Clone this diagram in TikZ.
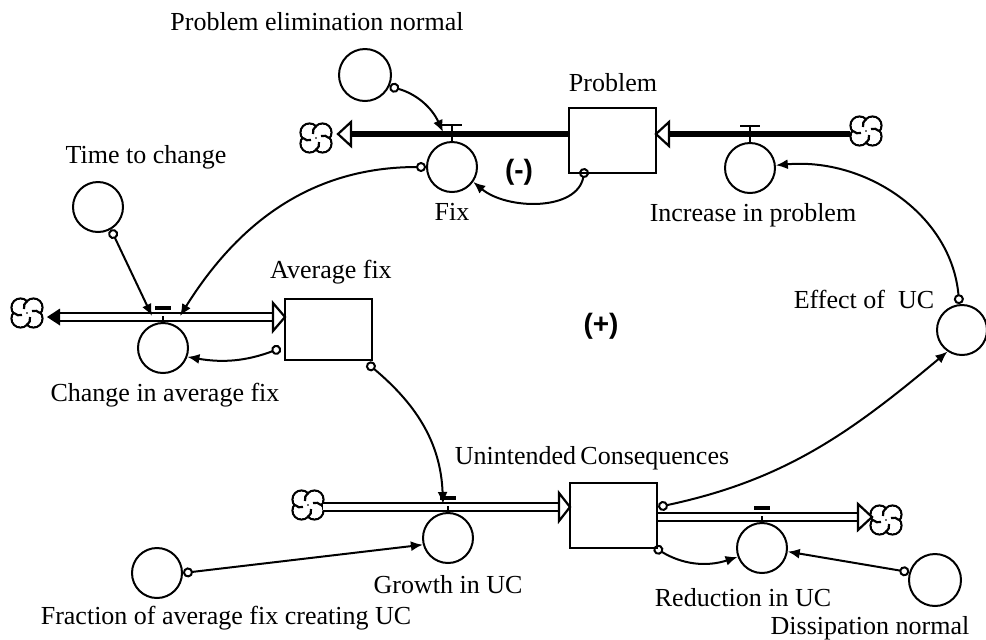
\documentclass[tikz,border=0pt]{standalone}
\usepackage{fontspec}
\setmainfont{Liberation Serif}
\newfontfamily\boldsans{Liberation Sans}
\usetikzlibrary{arrows.meta,calc}
\begin{document}
\begin{tikzpicture}[x=0.5pt,y=-0.5pt,
  aux/.style={circle,draw,line width=1pt,minimum size=25pt,inner sep=0pt},
  stock/.style={rectangle,draw,line width=1.1pt,minimum width=43.5pt,minimum height=32.5pt,inner sep=0pt},
  lbl/.style={font=\fontsize{13}{15}\selectfont,inner sep=0pt},
  conn/.style={line width=1pt,{Circle[open,length=5pt,width=5pt,line width=1pt]}-{Latex[length=6pt,width=5pt]}},
  pipe/.style={line width=2.6pt},
  dpipe/.style={line width=1.1pt,double=white,double distance=2.8pt},
  hollowtip/.style={line width=1.1pt,fill=white,line join=miter},
  loopmark/.style={font=\boldsans\bfseries\fontsize{14}{16}\selectfont,inner sep=0pt},
  cloudpic/.pic={
    \foreach \p in {(-6.5,-5.5),(6.5,-5.5),(6.5,5.5),(-6.5,5.5)} \draw[line width=1.1pt] \p circle (9);
    \foreach \p in {(-6.5,-5.5),(6.5,-5.5),(6.5,5.5),(-6.5,5.5)} \fill[white] \p circle (7.8);
    \draw[line width=1.1pt] (0,-12) to[bend right=30] (-3,-4)
                            (13,0) to[bend right=30] (5,-2)
                            (0,12) to[bend right=30] (3,4)
                            (-13,0) to[bend right=30] (-5,2);
  }
]
\useasboundingbox (0,0) rectangle (986,639);

% ---------- stocks
\node[stock] (prob) at (612.5,140.5) {};
\node[stock,minimum height=30.5pt] (avg) at (328.5,329.5) {};
\node[stock] (uc) at (613.5,515.5) {};

% ---------- auxiliaries / rates
\node[aux] (fix) at (452,167) {};
\node[aux] (inc) at (750,168) {};
\node[aux,minimum size=26pt] (pen) at (365,75) {};
\node[aux] (ttc) at (98,207) {};
\node[aux] (cha) at (163,348) {};
\node[aux] (gro) at (448,538) {};
\node[aux] (red) at (762,548) {};
\node[aux,minimum size=26pt] (dis) at (935,580) {};
\node[aux] (eff) at (962,330) {};
\node[aux] (fra) at (157,573) {};

% ---------- labels
\node[lbl] (probL) at (613,83) {Problem};
\node[lbl] (fixL) at (452,212) {Fix};
\node[lbl] (incL) at (753,215) {Increase in problem};
\node[lbl] (penL) at (317,22) {Problem elimination normal};
\node[lbl] (ttcL) at (146,157) {Time to change};
\node[lbl] (chaL) at (165,395) {Change in average fix};
\node[lbl] (avgL) at (331,272) {Average fix};
\node[lbl] (groL) at (448,585) {Growth in UC};
\node[lbl] (ucL) at (592,458) {Unintended\,Consequences};
\node[lbl] (redL) at (743,598) {Reduction in UC};
\node[lbl] (disL) at (870,628) {Dissipation normal};
\node[lbl] (effL) at (864,299) {Effect of\ \ UC};
\node[lbl] (fraL) at (226,618) {Fraction of average fix creating UC};
\node[loopmark] (neg) at (519,172) {(-)};
\node[loopmark] (pos) at (601,326) {(+)};

% ---------- clouds and pipe ends
\coordinate (cl1) at (316,138);
\coordinate (cl2) at (866,131);
\coordinate (cl3) at (27,313);
\coordinate (cl4) at (308,505);
\coordinate (cl5) at (886,520);
\pic at (cl1) {cloudpic};
\pic at (cl2) {cloudpic};
\pic at (cl3) {cloudpic};
\pic at (cl4) {cloudpic};
\pic at (cl5) {cloudpic};

\coordinate (tipL1) at (338,134);
\coordinate (tipR1) at (656,134);
\coordinate (tipL2) at (47,317);
\coordinate (tipAvg) at (285,317);
\coordinate (tipUC) at (570,507);
\coordinate (tipOut) at (872,517);

% ---------- pipes
\draw[pipe] (prob.west |- tipL1) -- ($(tipL1)+(13,0)$);
\draw[pipe] ($(cl2)+(-16,3)$) -- ($(tipR1)+(13,0)$);
\draw[hollowtip] (tipL1) -- ++(13,-12) -- ++(0,24) -- cycle;
\draw[hollowtip] (tipR1) -- ++(13,-12) -- ++(0,24) -- cycle;

\draw[dpipe] ($(tipL2)+(12,0)$) -- ($(tipAvg)+(-12,0)$);
\fill (tipL2) -- ++(13,-8.5) -- ++(0,17) -- cycle;
\draw[hollowtip] (tipAvg) -- ++(-12,-14) -- ++(0,28) -- cycle;

\draw[dpipe] ($(cl4)+(15,2)$) -- ($(tipUC)+(-11,0)$);
\draw[hollowtip] (tipUC) -- ++(-11,-14) -- ++(0,28) -- cycle;

\draw[dpipe] (uc.east |- tipOut) -- ($(tipOut)+(-14,0)$);
\draw[hollowtip] (tipOut) -- ++(-14,-13) -- ++(0,26) -- cycle;

% ---------- valves
\foreach \v in {fix,inc}{
  \draw[line width=1pt] (\v.north) -- ++(0,-16);
  \draw[line width=1.4pt] ($(\v.north)+(-10,-16)$) -- ++(20,0);
}
\foreach \v in {cha,gro,red}{
  \draw[line width=1pt] (\v.north) -- ++(0,-6);
  \fill ($(\v.north)+(-8,-12)$) rectangle ++(16,-4);
}

\coordinate (vfix) at ($(fix.north)+(-9,-9)$);
\coordinate (vchaL) at ($(cha.north)+(-11,-6)$);
\coordinate (vchaR) at ($(cha.north)+(17,-6)$);
\coordinate (vgro) at ($(gro.north)+(-5,-8)$);

% ---------- connectors
\draw[conn] (pen.-25) to[bend left=25] (vfix);
\draw[conn] ($(prob.south west)+(17,-6)$) to[out=-100,in=-40] (fix.-35);
\draw[conn] (fix.west) to[out=180,in=58] (vchaR);
\draw[conn] (ttc.-60) -- (vchaL);
\draw[conn] ($(avg.south west)+(-3,-13)$) to[bend left=15] (cha.-20);
\draw[conn] ($(avg.south east)+(-6,2)$) to[out=-40,in=92] (vgro);
\draw[conn] (fra.east) -- (gro.195);
\draw[conn] ($(uc.south east)+(-4,-2)$) to[bend right=25] (red.200);
\draw[conn] (dis.163) -- (red.-8);
\draw[conn] ($(uc.east)+(0,-8.5)$) to[out=12,in=-140] (eff.236);
\draw[conn] (eff.96) to[out=95,in=5] (inc.6);
\end{tikzpicture}
\end{document}
